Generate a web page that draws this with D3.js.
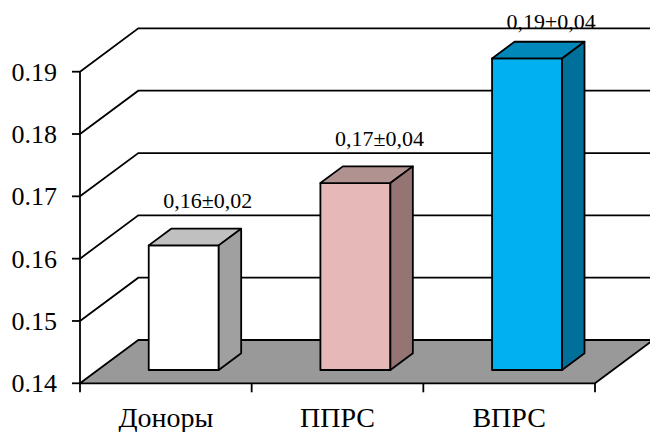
<!DOCTYPE html>
<html>
<head>
<meta charset="utf-8">
<script src="https://cdn.jsdelivr.net/npm/d3@7/dist/d3.min.js"></script>
<style>
  html, body { margin: 0; padding: 0; background: #fff; }
  svg { display: block; }
</style>
</head>
<body>
<svg id="chart" width="650" height="432"></svg>
<script>
// Data
const categories = ["Доноры", "ППРС", "ВПРС"];
const values = [0.16, 0.17, 0.19];
const valueLabels = ["0,16±0,02", "0,17±0,04", "0,19±0,04"];
const yTicks = [0.14, 0.15, 0.16, 0.17, 0.18, 0.19];
const frontColors = ["#ffffff", "#e6b8b7", "#00b0f0"];
const topColors = ["#c0c0c0", "#b09391", "#0088bb"];
const sideColors = ["#a0a0a0", "#957574", "#006f99"];

const svg = d3.select("#chart");
const serif = "'Liberation Serif', 'Times New Roman', serif";

// Front plane scales
const y = d3.scaleLinear().domain([0.14, 0.19]).range([383.3, 71.7]);
const x = d3.scaleBand().domain(categories).range([80, 595]).paddingInner(0).paddingOuter(0);

// Oblique depth projection
const depthX = 58.3, depthY = -43.3;
const P = (px, v, z) => [px + z * depthX, y(v) + z * depthY];

const sw = 1.8;

// Walls: diagonal side lines and horizontal back gridlines
const grid = svg.append("g");
yTicks.slice(1).forEach(t => {
  const a = P(80, t, 0), b = P(80, t, 1);
  grid.append("path")
    .attr("d", `M${a[0]},${a[1]}L${b[0]},${b[1]}L${b[0] + 520},${b[1]}`)
    .attr("fill", "none").attr("stroke", "#000").attr("stroke-width", sw);
});

// Floor
const x0 = x.range()[0], x1 = x.range()[1];
const f = [P(x0, 0.14, 0), P(x1, 0.14, 0), P(x1, 0.14, 1), P(x0, 0.14, 1)];
svg.append("path")
  .attr("d", "M" + f.map(p => p.join(",")).join("L") + "Z")
  .attr("fill", "#999999").attr("stroke", "#000").attr("stroke-width", sw)
  .attr("stroke-linejoin", "round");

// Value axis
svg.append("line")
  .attr("x1", 80).attr("x2", 80).attr("y1", y(0.19)).attr("y2", y(0.14))
  .attr("stroke", "#000").attr("stroke-width", sw);
const yAxis = svg.append("g");
yTicks.forEach(t => {
  yAxis.append("line").attr("x1", 72).attr("x2", 80).attr("y1", y(t)).attr("y2", y(t))
    .attr("stroke", "#000").attr("stroke-width", sw);
  yAxis.append("text").attr("x", 57).attr("y", y(t)).attr("dy", "0.35em")
    .attr("font-family", serif).attr("fill", "#000")
    .attr("text-anchor", "end").attr("font-size", 26).text(d3.format(".2f")(t));
});

// Category axis ticks and labels
const cticks = categories.map(c => x(c)).concat([x1]);
cticks.forEach(cx => {
  svg.append("line").attr("x1", cx).attr("x2", cx).attr("y1", y(0.14)).attr("y2", y(0.14) + 9)
    .attr("stroke", "#000").attr("stroke-width", sw);
});
categories.forEach(c => {
  svg.append("text").attr("x", x(c) + x.bandwidth() / 2).attr("y", 427)
    .attr("font-family", serif).attr("fill", "#000")
    .attr("text-anchor", "middle").attr("font-size", 28).text(c);
});

// Bars (front, top, side faces)
const barW = 70, z0 = 0.307, z1 = 0.692;
const poly = pts => "M" + pts.map(p => p.join(",")).join("L") + "Z";
const bars = svg.append("g");
categories.forEach((c, i) => {
  const cx = x(c) + x.bandwidth() / 2;
  const l = cx - barW / 2, r = cx + barW / 2, v = values[i];
  const front = [P(l, 0.14, z0), P(r, 0.14, z0), P(r, v, z0), P(l, v, z0)];
  const top = [P(l, v, z0), P(r, v, z0), P(r, v, z1), P(l, v, z1)];
  const side = [P(r, 0.14, z0), P(r, 0.14, z1), P(r, v, z1), P(r, v, z0)];
  [[front, frontColors[i]], [top, topColors[i]], [side, sideColors[i]]].forEach(([pts, col]) => {
    bars.append("path").attr("d", poly(pts)).attr("fill", col)
      .attr("stroke", "#000").attr("stroke-width", sw).attr("stroke-linejoin", "round");
  });
  // Value label above the bar, kept inside the plot's top edge
  const ly = Math.max(P(cx, v, 1)[1] - 7, 28.5);
  svg.append("text").attr("x", cx + 0.72 * depthX).attr("y", ly)
    .attr("font-family", serif).attr("fill", "#000")
    .attr("text-anchor", "middle").attr("font-size", 22).text(valueLabels[i]);
});
</script>
</body>
</html>
